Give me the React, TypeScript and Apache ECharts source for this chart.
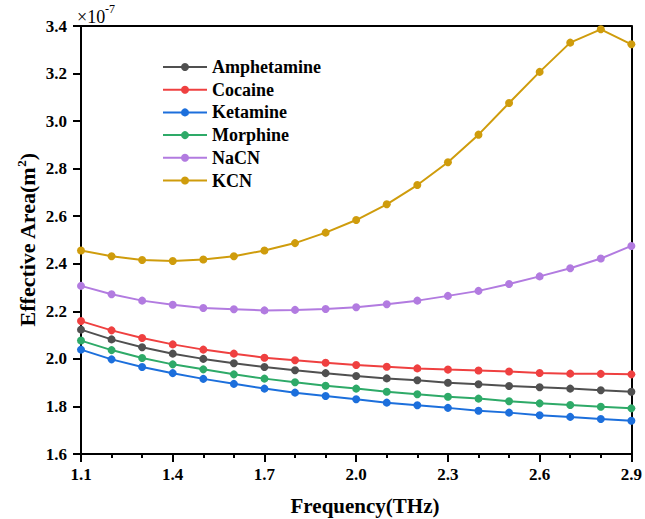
import React, { useEffect, useRef } from "react";
import * as echarts from "echarts";

const freqs = [1.1, 1.2, 1.3, 1.4, 1.5, 1.6, 1.7, 1.8, 1.9, 2.0, 2.1, 2.2, 2.3, 2.4, 2.5, 2.6, 2.7, 2.8, 2.9];

const amphetamine = [2.123, 2.082, 2.049, 2.022, 2.0, 1.982, 1.966, 1.952, 1.94, 1.928, 1.918, 1.91, 1.9, 1.893, 1.886, 1.881, 1.875, 1.868, 1.862];
const cocaine = [2.159, 2.12, 2.088, 2.061, 2.039, 2.022, 2.005, 1.994, 1.984, 1.974, 1.967, 1.96, 1.955, 1.951, 1.947, 1.941, 1.938, 1.937, 1.935];
const ketamine = [2.039, 1.998, 1.966, 1.94, 1.916, 1.895, 1.875, 1.858, 1.844, 1.83, 1.816, 1.805, 1.794, 1.782, 1.774, 1.763, 1.756, 1.747, 1.74];
const morphine = [2.077, 2.037, 2.004, 1.977, 1.956, 1.935, 1.917, 1.902, 1.887, 1.875, 1.862, 1.851, 1.841, 1.833, 1.822, 1.813, 1.806, 1.799, 1.792];
const nacn = [2.307, 2.272, 2.245, 2.228, 2.214, 2.209, 2.204, 2.206, 2.21, 2.217, 2.23, 2.245, 2.265, 2.286, 2.315, 2.347, 2.381, 2.422, 2.475];
const kcn = [2.456, 2.432, 2.416, 2.412, 2.418, 2.432, 2.456, 2.487, 2.531, 2.584, 2.65, 2.731, 2.827, 2.943, 3.076, 3.207, 3.33, 3.386, 3.323];

const seriesNames = ["Amphetamine", "Cocaine", "Ketamine", "Morphine", "NaCN", "KCN"];
const seriesValues = [amphetamine, cocaine, ketamine, morphine, nacn, kcn];
const colors = ["#505050", "#ef4040", "#1c6fdc", "#2eaa68", "#b27be0", "#cf9c0c"];

const X0 = 1.1;
const FONT = "'Liberation Serif', 'Times New Roman', serif";

export default function App() {
  const ref = useRef<HTMLDivElement>(null);

  useEffect(() => {
    document.body.style.margin = "0";
    const chart = echarts.init(ref.current!, null, { renderer: "svg" });
    const axisLabelStyle = { fontFamily: FONT, fontWeight: "bold" as const, fontSize: 17, color: "#000" };
    chart.setOption({
      animation: false,
      backgroundColor: "#fff",
      grid: { left: 81, right: 11, top: 26, bottom: 65, containLabel: false },
      legend: {
        orient: "vertical",
        left: 162,
        top: 58,
        padding: 0,
        itemWidth: 44,
        itemHeight: 10,
        itemGap: 4.7,
        textStyle: { fontFamily: FONT, fontWeight: "bold", fontSize: 18, lineHeight: 18, color: "#000" },
        data: seriesNames,
      },
      xAxis: [
        {
          type: "value",
          min: 0,
          max: 1.8,
          interval: 0.3,
          axisLine: { show: true, onZero: false, lineStyle: { color: "#000", width: 2 } },
          axisTick: { show: true, length: 8, lineStyle: { color: "#000", width: 2 } },
          minorTick: { show: true, splitNumber: 3, length: 4, lineStyle: { color: "#000", width: 2 } },
          splitLine: { show: false },
          axisLabel: {
            ...axisLabelStyle,
            margin: 12,
            formatter: (v: number) => (v + X0).toFixed(1),
          },
        },
        {
          type: "value",
          position: "top",
          min: 0,
          max: 1.8,
          axisLine: { show: true, onZero: false, lineStyle: { color: "#000", width: 2 } },
          axisTick: { show: false },
          axisLabel: { show: false },
          splitLine: { show: false },
        },
      ],
      yAxis: [
        {
          type: "value",
          min: 1.6,
          max: 3.4,
          interval: 0.2,
          axisLine: { show: true, onZero: false, lineStyle: { color: "#000", width: 2 } },
          axisTick: { show: true, length: 8, lineStyle: { color: "#000", width: 2 } },
          splitLine: { show: false },
          axisLabel: {
            ...axisLabelStyle,
            margin: 14,
            formatter: (v: number) => v.toFixed(1),
          },
        },
        {
          type: "value",
          position: "right",
          min: 1.6,
          max: 3.4,
          axisLine: { show: true, onZero: false, lineStyle: { color: "#000", width: 2 } },
          axisTick: { show: false },
          axisLabel: { show: false },
          splitLine: { show: false },
        },
      ],
      series: seriesNames.map((name, i) => ({
        name,
        type: "line",
        xAxisIndex: 0,
        yAxisIndex: 0,
        data: freqs.map((f, j) => [+(f - X0).toFixed(2), seriesValues[i][j]]),
        symbol: "circle",
        symbolSize: 8,
        color: colors[i],
        lineStyle: { width: 2, color: colors[i] },
        itemStyle: { color: colors[i] },
      })),
      graphic: [
        {
          type: "text",
          x: 77,
          y: 17,
          style: { text: "×10", fontFamily: FONT, fontSize: 18, fill: "#000", align: "left", verticalAlign: "middle" },
        },
        {
          type: "text",
          x: 105,
          y: 9,
          style: { text: "-7", fontFamily: FONT, fontSize: 12, fill: "#000", align: "left", verticalAlign: "middle" },
        },
        {
          type: "text",
          x: 27,
          y: 240,
          rotation: Math.PI / 2,
          style: {
            text: "{a|Effective Area(m}{s|2}{a|)}",
            align: "center",
            verticalAlign: "middle",
            fill: "#000",
            rich: {
              a: { fontFamily: FONT, fontWeight: "bold", fontSize: 22, fill: "#000", lineHeight: 24 },
              s: { fontFamily: FONT, fontWeight: "bold", fontSize: 13, fill: "#000", verticalAlign: "top", lineHeight: 24 },
            },
          },
        },
        {
          type: "text",
          x: 365,
          y: 506,
          style: {
            text: "Frequency(THz)",
            fontFamily: FONT,
            fontWeight: "bold",
            fontSize: 21,
            fill: "#000",
            align: "center",
            verticalAlign: "middle",
          },
        },
      ],
    });
    return () => chart.dispose();
  }, []);

  return <div ref={ref} style={{ width: 645, height: 519 }} />;
}
